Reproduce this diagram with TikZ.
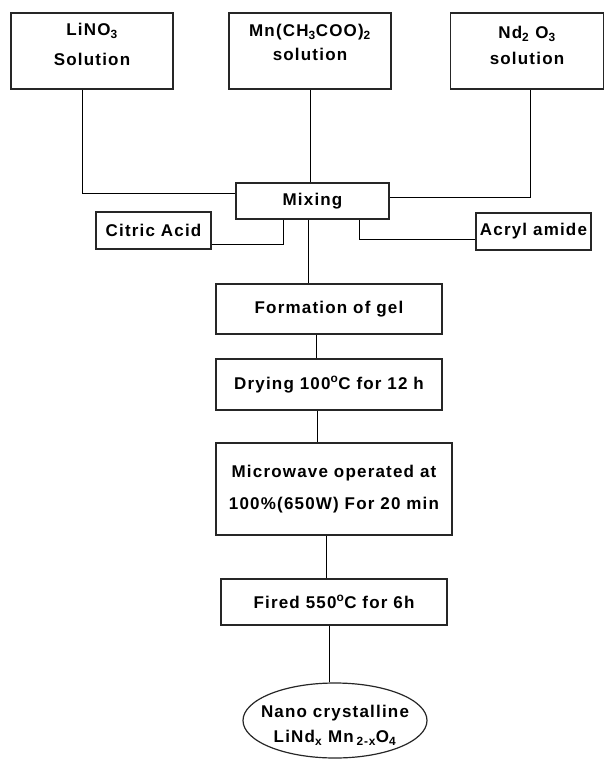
\documentclass[tikz,border=0pt]{standalone}
\usepackage{fontspec}
\setmainfont{Liberation Sans}[LetterSpace=7]
\usetikzlibrary{shapes.geometric}

\begin{document}
\begin{tikzpicture}[x=1pt,y=-1pt,
	every node/.style={align=center,font=\bfseries\fontsize{17}{20}\selectfont},
	box/.style={draw=black!85,line width=1.2pt,inner sep=0pt},
	toptext/.style={anchor=north,inner sep=0pt},
	wire/.style={line width=0.9pt}]
	\useasboundingbox (0,0) rectangle (604,760);
	% starting solutions
	\node[box,minimum width=162,minimum height=76,
		label={[toptext,yshift=-11pt]north:{LiNO\textsubscript{3}\\[10pt]Solution}}] (lino) at (92,51) {};
	\node[box,minimum width=162,minimum height=76,
		label={[toptext,yshift=-12pt]north:{Mn(CH\textsubscript{3}COO)\textsubscript{2}\\[4pt]solution}}] (mnac) at (310,51) {};
	\node[box,minimum width=153,minimum height=76,
		label={[toptext,yshift=-14pt]north:{Nd\textsubscript{2} O\textsubscript{3}\\[6pt]solution}}] (ndox) at (527,51) {};
	% mixing with additives
	\node[box,minimum width=153,minimum height=36] (mix) at (312.5,201) {Mixing};
	\node[box,minimum width=115,minimum height=37] (citric) at (153.5,230.5) {Citric Acid};
	\node[box,minimum width=115,minimum height=37] (acryl) at (533.5,231.5) {Acryl amide};
	% processing steps
	\node[box,minimum width=226,minimum height=50] (gel) at (329,309) {Formation of gel};
	\node[box,minimum width=226,minimum height=51] (dry) at (329,384.5) {Drying 100\textsuperscript{o}C for 12 h};
	\node[box,minimum width=236,minimum height=92] (micro) at (334,489) {Microwave operated at\\[12pt]100\%(650W) For 20 min};
	\node[box,minimum width=226,minimum height=46] (fire) at (334,602) {Fired 550\textsuperscript{o}C for 6h};
	\node[box,ellipse,minimum width=184,minimum height=75,
		label={[yshift=-5pt]center:{Nano crystalline\\[5pt]LiNd\textsubscript{x} Mn\,\textsubscript{2-x}O\textsubscript{4}}}] (nano) at (335,720.5) {};

	\draw[wire] ([xshift=-10pt]lino.south) |- ([yshift=8pt]mix.west);
	\draw[wire] (mnac.south) -- (mnac.south |- mix.north);
	\draw[wire] ([xshift=3pt]ndox.south) |- ([yshift=4pt]mix.east);
	\draw[wire] ([xshift=-29.5pt]mix.south) |- ([yshift=-13.5pt]citric.east);
	\draw[wire] ([xshift=46.5pt]mix.south) |- ([yshift=-7.5pt]acryl.west);
	\draw[wire] ([xshift=-4.5pt]mix.south) -- ([xshift=-4.5pt]mix.south |- gel.north);
	\draw[wire] ([xshift=-13pt]gel.south) -- ([xshift=-13pt]gel.south |- dry.north);
	\draw[wire] ([xshift=-12pt]dry.south) -- ([xshift=-12pt]dry.south |- micro.north);
	\draw[wire] ([xshift=-8pt]micro.south) -- ([xshift=-8pt]micro.south |- fire.north);
	\draw[wire] ([xshift=-5pt]fire.south) -- ([xshift=-5pt]fire.south |- nano.north);
\end{tikzpicture}
\end{document}
